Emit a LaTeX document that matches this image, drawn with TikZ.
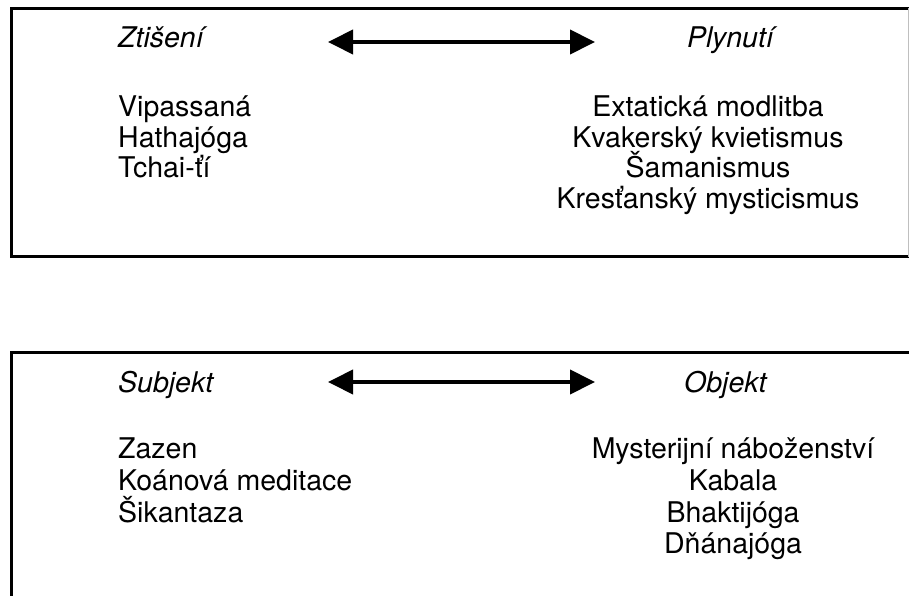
\documentclass[tikz,border=0pt]{standalone}
\usepackage{fontspec}
\setmainfont{TeX Gyre Heros}
\usetikzlibrary{arrows.meta}
\tikzset{
  item/.style={inner sep=0pt, font=\fontsize{28.5}{31}\selectfont},
  pole/.style={item, font=\fontsize{28.5}{31}\selectfont\itshape},
  frame/.style={line width=3pt},
  both/.style={{Triangle[length=25pt,width=24pt]}-{Triangle[length=25pt,width=24pt]}, line width=4pt}
}

\begin{document}
\begin{tikzpicture}[x=1pt,y=-1pt]
  \useasboundingbox (0,0) rectangle (909,596);
  \draw[frame] (909,256.5) -- (11.5,256.5) -- (11.5,8.5) -- (909,8.5);
  \draw[gray!50, line width=1pt] (908,8.5) -- (908,256.5);
  \draw[frame] (909,352.5) -- (11.5,352.5) -- (11.5,596);

  \node[pole, anchor=base west] (zt) at (118,48) {Ztišení};
  \node[pole, anchor=base west] (pl) at (687,48) {Plynutí};
  \coordinate (zt-e) at (328,42);
  \coordinate (pl-w) at (595,42);
  \foreach \t/\y [count=\i] in {Vipassaná/117, Hathajóga/148, Tchai-ťí/178}
    \node[item, anchor=base west] (zt\i) at (118,\y) {\t};
  \foreach \t/\y [count=\i] in {Extatická modlitba/117, Kvakerský kvietismus/148, Šamanismus/178, Kresťanský mysticismus/208}
    \node[item, anchor=base] (pl\i) at (708,\y) {\t};

  \node[pole, anchor=base west] (su) at (118,392) {Subjekt};
  \node[pole, anchor=base west] (ob) at (684,392) {Objekt};
  \coordinate (su-e) at (328,382);
  \coordinate (ob-w) at (595,382);
  \foreach \t/\y [count=\i] in {Zazen/458, Koánová meditace/490, Šikantaza/522}
    \node[item, anchor=base west] (su\i) at (118,\y) {\t};
  \foreach \t/\y [count=\i] in {Mysterijní náboženství/458, Kabala/490, Bhaktijóga/522, Dňánajóga/553}
    \node[item, anchor=base] (ob\i) at (733,\y) {\t};

  \path[both]
  (zt-e) edge (pl-w)
  (su-e) edge (ob-w);
\end{tikzpicture}
\end{document}
